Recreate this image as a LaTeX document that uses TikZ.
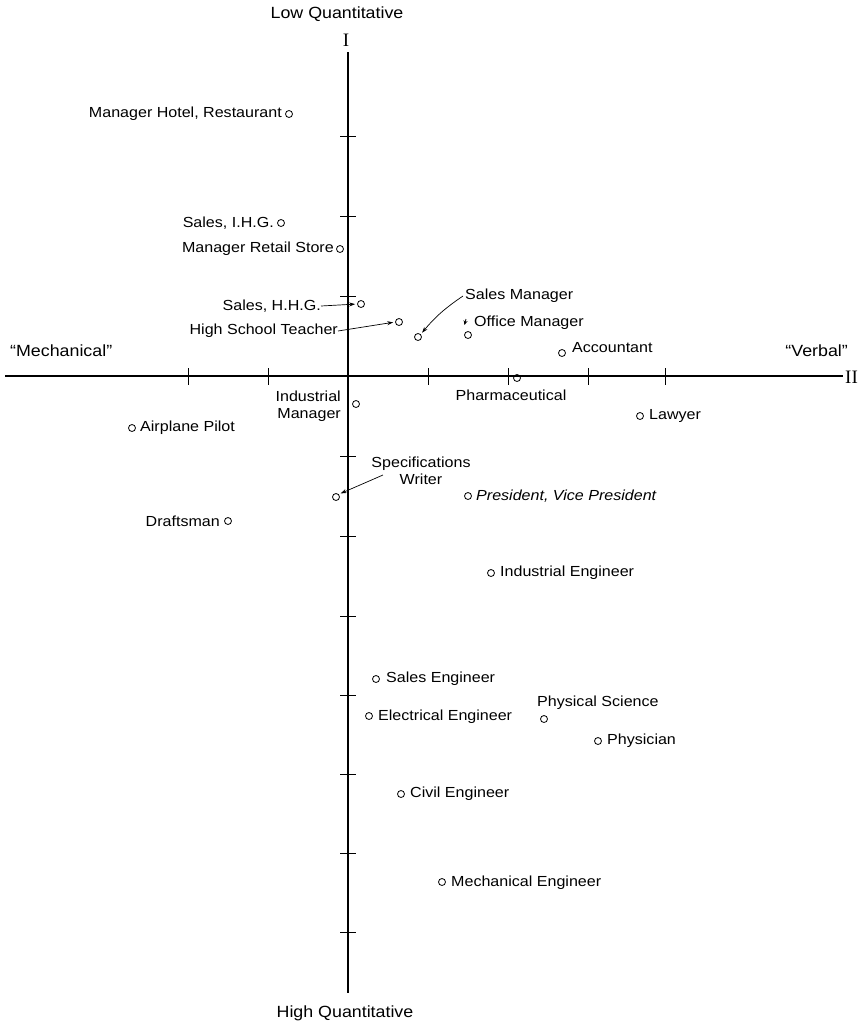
\documentclass[tikz,border=0pt]{standalone}
\usepackage{fontspec}
\usetikzlibrary{arrows.meta}
\newfontfamily\labfont[FakeStretch=1.1]{Liberation Sans}
\newfontfamily\romfont{Liberation Serif}
\tikzset{
  dot/.style={circle,draw,line width=0.8pt,inner sep=0pt,minimum size=7pt},
  lab/.style={inner sep=0pt,font=\labfont\fontsize{14.6}{17.5}\selectfont},
  big/.style={inner sep=0pt,font=\labfont\fontsize{16.2}{19}\selectfont},
  rom/.style={inner sep=0pt,font=\romfont\fontsize{19}{21}\selectfont},
  axis/.style={line width=1.2pt},
  tick/.style={line width=0.9pt},
  arr/.style={line width=0.7pt,-{Stealth[length=6pt,width=4pt]},shorten >=2pt}
}
\begin{document}
\begin{tikzpicture}[x=1pt,y=-1pt]
\useasboundingbox (0,0) rectangle (862,1029);
% axes
\coordinate (vtop) at (348,52);
\coordinate (vbot) at (348,993);
\coordinate (hleft) at (5,376);
\coordinate (hright) at (843,376);
\draw[axis] (vtop) -- (vbot);
\draw[axis] (hleft) -- (hright);
\foreach \y in {136,216,296,456,536,616,695,774,853,932}
  \draw[tick] (340,\y) -- (356,\y);
\foreach \x in {188,268,428,508,588,665}
  \draw[tick] (\x,368) -- (\x,385);
% axis labels
\node[big] (lowq) at (337,14) {Low Quantitative};
\node[rom] (one) at (346,40) {I};
\node[big] (highq) at (345,1013) {High Quantitative};
\node[big,anchor=west] (mechq) at (10,351) {“Mechanical”};
\node[big,anchor=east] (verbq) at (848,351) {“Verbal”};
\node[rom,anchor=west] (two) at (845,377) {II};
% points
\node[dot] (hotel) at (289,114) {};
\node[lab,anchor=east] (hotelL) at (282,114) {Manager Hotel, Restaurant};
\node[dot] (sihg) at (281,223) {};
\node[lab,anchor=east] (sihgL) at (274,223) {Sales, I.H.G.};
\node[dot] (retail) at (340,249) {};
\node[lab,anchor=east] (retailL) at (334,249) {Manager Retail Store};
\node[dot] (shhg) at (361,304) {};
\node[lab,anchor=east] (shhgL) at (321,306) {Sales, H.H.G.};
\draw[arr] (shhgL.east) -- (shhg.west);
\node[dot] (hst) at (399,322) {};
\node[lab,anchor=east] (hstL) at (338,331) {High School Teacher};
\draw[arr] (hstL.east) -- (hst.west);
\node[dot] (smgr) at (418,337) {};
\node[lab,anchor=west] (smgrL) at (465,296) {Sales Manager};
\draw[arr] ([xshift=-2pt]smgrL.west) to[bend right=8] (smgr.north east);
\node[dot] (omgr) at (468,335) {};
\node[lab,anchor=west] (omgrL) at (474,323) {Office Manager};
\coordinate (omark) at (466,319);
\draw[line width=0.8pt,-{Stealth[length=4.5pt,width=4pt]}] (omark) -- ++(-1.5,6);
\node[dot] (acct) at (562,353) {};
\node[lab,anchor=west] (acctL) at (572,348) {Accountant};
\node[dot] (pharm) at (517,378) {};
\node[lab] (pharmL) at (511,395) {Pharmaceutical};
\node[dot] (imgr) at (356,404) {};
\node[lab,anchor=east,align=right] (imgrL) at (341,406) {Industrial\\Manager};
\node[dot] (pilot) at (132,428) {};
\node[lab,anchor=west] (pilotL) at (140,428) {Airplane Pilot};
\node[dot] (lawyer) at (640,416) {};
\node[lab,anchor=west] (lawyerL) at (649,416) {Lawyer};
\node[dot] (spec) at (336,497) {};
\node[lab,align=center] (specL) at (421,471) {Specifications\\Writer};
\coordinate (specS) at (383,475);
\draw[arr] (specS) -- (spec.north east);
\node[dot] (pres) at (468,496) {};
\node[lab,anchor=west] (presL) at (476,496) {\itshape President, Vice President};
\node[dot] (draft) at (228,521) {};
\node[lab,anchor=east] (draftL) at (220,521) {Draftsman};
\node[dot] (ieng) at (491,573) {};
\node[lab,anchor=west] (iengL) at (500,573) {Industrial Engineer};
\node[dot] (seng) at (376,679) {};
\node[lab,anchor=west] (sengL) at (386,679) {Sales Engineer};
\node[dot] (eeng) at (369,716) {};
\node[lab,anchor=west] (eengL) at (378,717) {Electrical Engineer};
\node[dot] (phys) at (544,719) {};
\node[lab,anchor=west] (physL) at (537,703) {Physical Science};
\node[dot] (doc) at (598,741) {};
\node[lab,anchor=west] (docL) at (607,741) {Physician};
\node[dot] (civ) at (401,794) {};
\node[lab,anchor=west] (civL) at (410,794) {Civil Engineer};
\node[dot] (meng) at (442,882) {};
\node[lab,anchor=west] (mengL) at (451,883) {Mechanical Engineer};
\end{tikzpicture}
\end{document}
